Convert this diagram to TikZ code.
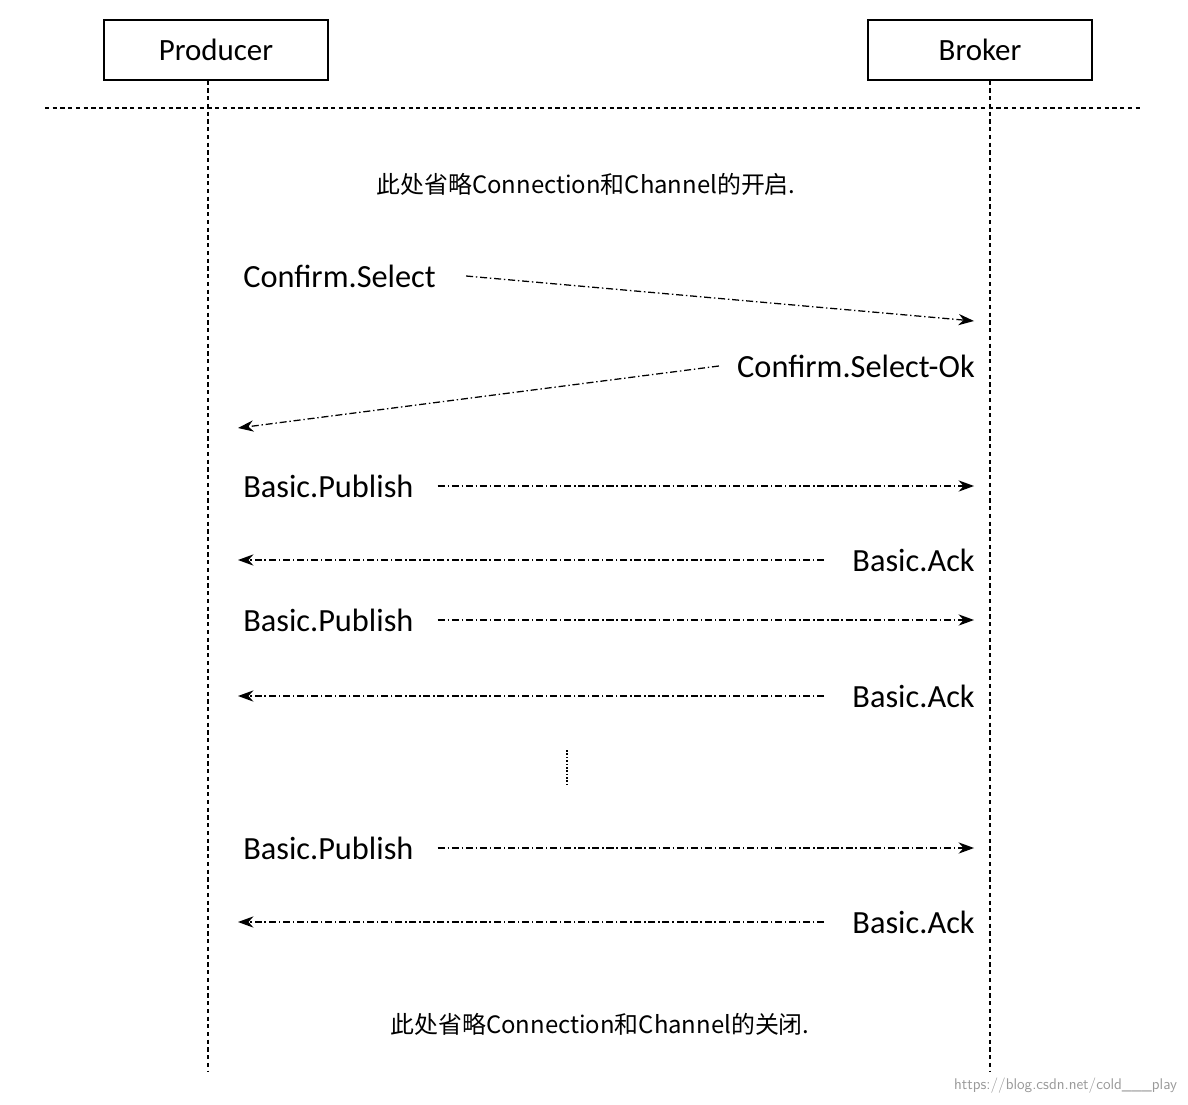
\documentclass[tikz,border=0pt]{standalone}
\usepackage{fontspec}
\setmainfont{Carlito}
\newfontfamily\cjk{Noto Sans CJK SC}
\usetikzlibrary{arrows.meta}
\begin{document}
\begin{tikzpicture}[x=0.025cm,y=-0.025cm,
 box/.style={draw,line width=1pt,minimum width=224*0.025cm,minimum height=60*0.025cm,font=\fontsize{22}{26}\selectfont},
 lbl/.style={font=\fontsize{23}{27}\selectfont,inner sep=0pt},
 note/.style={font=\cjk\fontsize{17}{20}\selectfont,inner sep=0pt},
 msg/.style={line width=0.9pt,dash pattern=on 5pt off 2pt on 1pt off 2pt,-{Stealth[length=11pt,width=8pt]}},
 life/.style={line width=0.9pt,dash pattern=on 3pt off 2.5pt}]
\useasboundingbox (0,0) rectangle (1188,1104);
\node[box] (prod) at (216,50) {Producer};
\node[box] (brok) at (980,50) {Broker};
\coordinate (pb) at (208,1072);
\coordinate (bb) at (990,1072);
\draw[life] (prod.south -| 208,0) -- (pb);
\draw[life] (brok.south -| 990,0) -- (bb);
\coordinate (hl) at (45,108); \coordinate (hr) at (1140,108);
\draw[life] (hl) -- (hr);
\node[note] (n1) at (586,184) {此处省略Connection和Channel的开启.};
\node[note] (n2) at (600,1024) {此处省略Connection和Channel的关闭.};
\node[lbl,anchor=west] (cs) at (243,276) {Confirm.Select};
\node[lbl,anchor=east] (cso) at (975,366) {Confirm.Select-Ok};
\coordinate (a1e) at (974,321); \coordinate (a2e) at (238,428);
\draw[msg] ([xshift=30*0.025cm]cs.east) -- (a1e);
\draw[msg] ([xshift=-18*0.025cm]cso.west) -- (a2e);
\foreach \i/\yp/\ya in {1/486/560, 2/620/696, 3/848/922}{
 \node[lbl,anchor=west] (bp\i) at (243,\yp) {Basic.Publish};
 \node[lbl,anchor=east] (ba\i) at (975,\ya) {Basic.Ack};
 \coordinate (pe\i) at (974,\yp); \coordinate (ae\i) at (238,\ya);
 \draw[msg] ([xshift=24*0.025cm]bp\i.east) -- (pe\i);
 \draw[msg] ([xshift=-28*0.025cm]ba\i.west) -- (ae\i);
}
\coordinate (d1) at (567,750); \coordinate (d2) at (567,786);
\draw[line width=1.2pt,dash pattern=on 1.2pt off 1.2pt] (d1) -- (d2);
\node[font=\fontsize{11}{13}\selectfont\sffamily,text=black!40,anchor=east] (wm) at (1182,1086) {https://blog.csdn.net/cold\_\_\_play};
\end{tikzpicture}
\end{document}
